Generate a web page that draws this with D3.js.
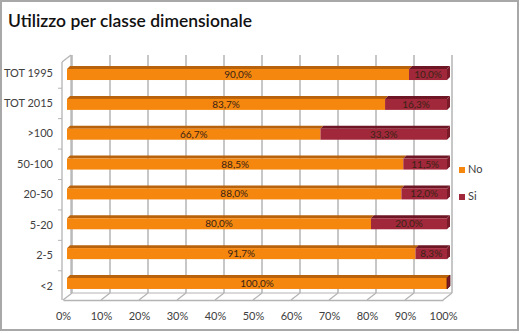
<!DOCTYPE html>
<html><head><meta charset="utf-8">
<script src="https://cdn.jsdelivr.net/npm/d3@7"></script>
<style>body{margin:0;background:#fff}svg{display:block}text{font-family:Lato,"Open Sans",sans-serif}</style>
</head><body><svg id="c" width="520" height="333"></svg>
<script>
const categories = ["TOT 1995","TOT 2015",">100","50-100","20-50","5-20","2-5","<2"];
const noValues = [90.0, 83.7, 66.7, 88.5, 88.0, 80.0, 91.7, 100.0];
const siValues = [10.0, 16.3, 33.3, 11.5, 12.0, 20.0, 8.3, 0.0];
const xTicks = [0,10,20,30,40,50,60,70,80,90,100];
const seriesNames = ["No","Si"];

const svg = d3.select("#c");
const W = 520, H = 333;
// frame
svg.append("rect").attr("x",1).attr("y",1).attr("width",W-3).attr("height",H-4)
  .attr("fill","#fff").attr("stroke","#a8a8a8").attr("stroke-width",2);

svg.append("text").attr("x",8).attr("y",27).attr("font-size",18).attr("fill","#111")
  .attr("font-family","'Open Sans',sans-serif").attr("font-weight",600)
  .attr("textLength",244).attr("lengthAdjust","spacingAndGlyphs")
  .text("Utilizzo per classe dimensionale");

const dx = 9, dy = -7;         // depth of plot box
const xFront = d3.scaleLinear().domain([0,100]).range([63,443]);
const xBack = d3.scaleLinear().domain([0,100]).range([63+dx,443+dx]);
const xBar = d3.scaleLinear().domain([0,100]).range([67,447]);
const floorY = 300, topY = 62;
const yLab = d3.scaleBand().domain(categories).range([57.8,301.2]);
const yBar = d3.scaleBand().domain(categories).range([58.6,297.4]);
const grid = "#b4b4b4";

// back wall gridlines
svg.append("g").selectAll("line").data(xTicks).join("line")
  .attr("x1",d=>xBack(d)).attr("x2",d=>xBack(d))
  .attr("y1",topY+dy).attr("y2",floorY+dy)
  .attr("stroke",grid).attr("stroke-width",1.5);
// floor diagonals
svg.append("g").selectAll("line").data(xTicks).join("line")
  .attr("x1",d=>xFront(d)).attr("x2",d=>xBack(d))
  .attr("y1",floorY).attr("y2",floorY+dy)
  .attr("stroke",grid).attr("stroke-width",1.3);
// left wall
svg.append("line").attr("x1",62+dx).attr("x2",62+dx).attr("y1",topY+dy).attr("y2",floorY+dy).attr("stroke",grid).attr("stroke-width",1.3);
svg.append("line").attr("x1",62).attr("x2",62+dx).attr("y1",topY).attr("y2",topY+dy).attr("stroke",grid).attr("stroke-width",1.3);
// floor back edge
svg.append("line").attr("x1",xBack(0)).attr("x2",xBack(100)).attr("y1",floorY+dy).attr("y2",floorY+dy).attr("stroke",grid).attr("stroke-width",1);

// y axis
const yAxis = svg.append("g").attr("transform","translate(62,0)")
  .call(d3.axisLeft(yLab).tickSize(0).tickPadding(9));
yAxis.select(".domain").attr("d",`M0,${topY}V${floorY}`).attr("stroke",grid).attr("stroke-width",1.3);
yAxis.selectAll("text").attr("font-size",11).attr("fill","#404040").attr("font-family","Lato,sans-serif");
// y tick marks at band boundaries
const bounds = categories.map(c=>yLab(c)).concat([yLab.range()[1]]);
svg.append("g").selectAll("line").data(bounds.slice(1,-1)).join("line")
  .attr("x1",58).attr("x2",62).attr("y1",d=>d).attr("y2",d=>d).attr("stroke",grid);

// x axis
const xAxis = svg.append("g").attr("transform",`translate(0,${floorY})`)
  .call(d3.axisBottom(xFront).tickValues(xTicks).tickFormat(d=>d+"%").tickSize(0).tickPadding(12));
xAxis.select(".domain").attr("stroke",grid).attr("stroke-width",1.3);
xAxis.selectAll("text").attr("font-size",11).attr("fill","#404040").attr("font-family","Lato,sans-serif");

// bars
const colors = {No:{front:"#F5870F",top:"#B9620C",side:"#C86B0C"}, Si:{front:"#A1273B",top:"#6E1624",side:"#7A1A29"}};
const loc = d3.formatLocale({decimal:",",thousands:".",grouping:[3],currency:["€",""]});
const fmt = loc.format(".1f");
const segs = [];
categories.forEach((c,i)=>{
  segs.push({cat:c,s:"No",x0:0,x1:noValues[i],v:noValues[i]});
  segs.push({cat:c,s:"Si",x0:noValues[i],x1:noValues[i]+siValues[i],v:siValues[i]});
});
const bh = 11, bd = 3;
const gB = svg.append("g");
segs.forEach(d=>{
  const c = colors[d.s];
  const x0 = xBar(d.x0), x1 = xBar(d.x1);
  const y0 = yBar(d.cat) + yBar.bandwidth()/2 - bh/2 + 1, y1 = y0 + bh;
  const g = gB.append("g");
  g.append("path").attr("d",`M${x0},${y0}L${x0+bd},${y0-bd}L${x1+bd},${y0-bd}L${x1},${y0}Z`).attr("fill",c.top);
  g.append("rect").attr("x",x0).attr("y",y0).attr("width",x1-x0).attr("height",bh).attr("fill",c.front);
  if (d.s==="Si") {
    g.append("path").attr("d",`M${x1},${y0}L${x1+bd},${y0-bd}L${x1+bd},${y1-bd}L${x1},${y1}Z`)
      .attr("fill",c.side).attr("stroke",d.v===0?"#5a1010":"none").attr("stroke-width",0.8);
  }
  if (d.v>0) {
    g.append("text").attr("x",(x0+x1)/2).attr("y",y0+bh/2+1).attr("text-anchor","middle")
      .attr("dominant-baseline","middle").attr("font-size",10).attr("fill","#3a2414")
      .attr("font-family","Lato,sans-serif").text(fmt(d.v)+"%");
  }
});

// legend
const leg = svg.append("g").selectAll("g").data(seriesNames).join("g")
  .attr("transform",(d,i)=>`translate(459,${170+i*27})`);
leg.append("rect").attr("x",0).attr("y",-3).attr("width",6).attr("height",6).attr("fill",d=>colors[d].front);
leg.append("text").attr("x",9).attr("y",0).attr("dominant-baseline","middle").attr("font-size",11)
  .attr("fill","#404040").text(d=>d);
</script></body></html>
